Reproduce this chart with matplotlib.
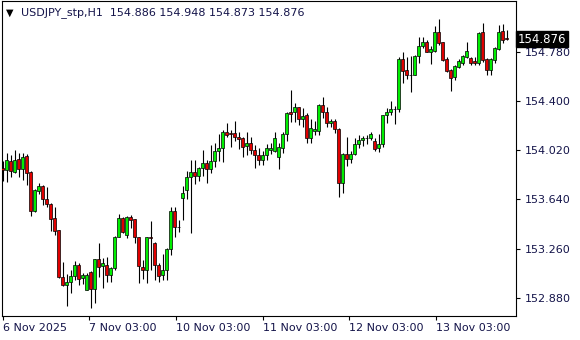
import matplotlib
matplotlib.use('Agg')
import matplotlib.pyplot as plt
import numpy as np

# USDJPY_stp H1 candles (oldest first)
opens = [153.885, 153.864, 153.933, 153.851, 153.949, 153.872, 153.975, 153.851, 153.552, 153.707,
         153.743, 153.643, 153.601, 153.493, 153.403, 153.038, 152.976, 152.999, 153.045, 153.130,
         153.030, 152.940, 153.079, 152.945, 153.177, 153.125, 153.130, 153.053, 153.107, 153.352,
         153.493, 153.367, 153.501, 153.488, 153.346, 153.117, 153.092, 153.349, 153.303, 153.130,
         153.058, 153.092, 153.256, 153.550, 153.424, 153.653, 153.712, 153.810, 153.851, 153.823,
         153.880, 153.918, 153.872, 153.934, 154.011, 154.039, 154.158, 154.155, 154.150, 154.119,
         154.112, 154.050, 154.076, 154.019, 153.980, 153.941, 153.980, 154.019, 154.016, 153.965,
         154.034, 154.142, 154.312, 154.312, 154.351, 154.258, 154.292, 154.112, 154.171, 154.171,
         154.369, 154.312, 154.227, 154.245, 154.181, 153.764, 153.990, 153.954, 153.990, 154.065,
         154.096, 154.112, 154.112, 154.091, 154.039, 154.064, 154.288, 154.312, 154.337, 154.335,
         154.726, 154.641, 154.600, 154.602, 154.747, 154.824, 154.855, 154.780, 154.788, 154.932,
         154.852, 154.721, 154.636, 154.582, 154.664, 154.695, 154.741, 154.729, 154.708, 154.690,
         154.932, 154.721, 154.638, 154.716, 154.798, 154.937, 154.886]
highs = [153.936, 153.995, 153.982, 154.021, 153.995, 154.000, 153.987, 153.859, 153.717, 153.764,
         153.748, 153.738, 153.609, 153.578, 153.405, 153.159, 153.061, 153.092, 153.161, 153.151,
         153.069, 153.074, 153.089, 153.180, 153.305, 153.190, 153.192, 153.120, 153.357, 153.524,
         153.506, 153.511, 153.519, 153.490, 153.352, 153.172, 153.352, 153.473, 153.313, 153.146,
         153.215, 153.264, 153.583, 153.583, 153.480, 153.743, 153.861, 153.944, 153.944, 153.887,
         154.021, 153.944, 154.060, 154.073, 154.145, 154.176, 154.227, 154.176, 154.245, 154.158,
         154.124, 154.160, 154.124, 154.060, 154.034, 154.016, 154.068, 154.073, 154.160, 154.078,
         154.162, 154.317, 154.485, 154.386, 154.356, 154.345, 154.305, 154.260, 154.242, 154.376,
         154.433, 154.356, 154.260, 154.258, 154.188, 153.995, 154.119, 154.016, 154.112, 154.137,
         154.129, 154.137, 154.160, 154.112, 154.145, 154.291, 154.342, 154.402, 154.360, 154.736,
         154.777, 154.741, 154.747, 154.754, 154.891, 154.891, 154.870, 154.826, 154.978, 155.030,
         154.857, 154.736, 154.644, 154.677, 154.721, 154.754, 154.852, 154.741, 154.736, 154.929,
         155.004, 154.729, 154.729, 154.819, 154.986, 154.991, 154.948]
lows = [153.784, 153.776, 153.815, 153.846, 153.815, 153.789, 153.751, 153.511, 153.542, 153.684,
        153.596, 153.578, 153.396, 153.365, 153.035, 152.971, 152.819, 152.919, 153.015, 152.979,
        152.986, 152.938, 152.803, 152.842, 153.043, 152.953, 153.002, 153.004, 153.094, 153.350,
        153.377, 153.339, 153.419, 153.305, 152.996, 153.027, 152.996, 153.094, 153.017, 153.004,
        153.017, 153.017, 153.213, 153.352, 153.390, 153.480, 153.645, 153.377, 153.761, 153.782,
        153.818, 153.769, 153.846, 153.887, 153.934, 153.929, 154.124, 154.047, 154.094, 154.027,
        153.970, 153.985, 153.990, 153.879, 153.908, 153.908, 153.944, 153.990, 154.009, 153.872,
        154.000, 154.093, 154.240, 154.240, 154.214, 154.201, 154.073, 154.073, 154.134, 154.137,
        154.265, 154.196, 154.196, 154.150, 153.656, 153.692, 153.900, 153.918, 153.985, 154.034,
        154.052, 154.067, 154.099, 154.016, 154.008, 154.046, 154.227, 154.291, 154.221, 154.317,
        154.541, 154.566, 154.471, 154.600, 154.690, 154.806, 154.778, 154.685, 154.780, 154.832,
        154.711, 154.626, 154.479, 154.561, 154.651, 154.677, 154.729, 154.677, 154.677, 154.677,
        154.703, 154.600, 154.600, 154.690, 154.793, 154.844, 154.873]
closes = [153.867, 153.941, 153.861, 153.941, 153.872, 153.967, 153.846, 153.552, 153.712, 153.743,
          153.640, 153.601, 153.486, 153.398, 153.038, 152.976, 152.999, 153.045, 153.130, 153.022,
          153.053, 153.053, 152.945, 153.177, 153.120, 153.146, 153.053, 153.107, 153.352, 153.493,
          153.385, 153.501, 153.483, 153.346, 153.123, 153.092, 153.349, 153.340, 153.130, 153.050,
          153.092, 153.256, 153.550, 153.424, 153.426, 153.689, 153.810, 153.851, 153.823, 153.882,
          153.918, 153.872, 153.934, 154.014, 154.034, 154.158, 154.140, 154.142, 154.119, 154.104,
          154.047, 154.076, 154.019, 153.985, 153.941, 153.980, 154.034, 154.037, 154.112, 154.042,
          154.142, 154.305, 154.302, 154.351, 154.258, 154.284, 154.112, 154.188, 154.181, 154.369,
          154.312, 154.227, 154.245, 154.181, 153.764, 153.990, 153.954, 153.990, 154.065, 154.096,
          154.114, 154.114, 154.142, 154.031, 154.065, 154.291, 154.314, 154.337, 154.340, 154.726,
          154.628, 154.600, 154.597, 154.749, 154.826, 154.855, 154.780, 154.801, 154.932, 154.850,
          154.716, 154.633, 154.579, 154.667, 154.708, 154.747, 154.785, 154.690, 154.690, 154.922,
          154.716, 154.638, 154.721, 154.806, 154.929, 154.870, 154.876]

price_ticks = [152.880, 153.260, 153.640, 154.020, 154.400, 154.780]
time_labels = ['6 Nov 2025', '7 Nov 03:00', '10 Nov 03:00', '11 Nov 03:00', '12 Nov 03:00', '13 Nov 03:00']
time_label_bars = [0, 21.67, 43.33, 65, 86.67, 108.33]
title = 'USDJPY_stp,H1  154.886 154.948 154.873 154.876'

o = np.array(opens)
h = np.array(highs)
l = np.array(lows)
c = np.array(closes)
x = np.arange(len(o))

txt = '#14144a'
fig = plt.figure(figsize=(5.8, 3.4), dpi=100)
ax = fig.add_axes([2/580, 24/340, 514/580, 315/340])

# wicks then bodies
ax.vlines(x, l, h, color='black', linewidth=0.8, zorder=2)
cols = np.where(c >= o, '#00ee00', '#e00000')
ax.bar(x, np.abs(c - o), bottom=np.minimum(o, c), width=0.7, color=cols,
       edgecolor='black', linewidth=0.5, zorder=3)

ax.set_xlim(-0.2, 128.3)
ax.set_ylim(152.739, 155.1715)

ax.yaxis.tick_right()
ax.set_yticks(price_ticks)
ax.set_yticklabels(['%.3f' % p for p in price_ticks])
ax.tick_params(axis='y', direction='out', length=3, width=0.8, pad=3,
               labelsize=8, labelcolor=txt, left=False)

ax.set_xticks(time_label_bars)
ax.set_xticklabels(time_labels)
for lbl in ax.get_xticklabels():
    lbl.set_horizontalalignment('left')
ax.tick_params(axis='x', direction='out', length=3, width=0.8, pad=2,
               labelsize=8, labelcolor=txt)

for s in ax.spines.values():
    s.set_linewidth(0.8)
    s.set_color('black')

# header
ax.text(0.008, 0.962, '\u25bc', transform=ax.transAxes, fontsize=7, color='black',
        va='center', ha='left')
ax.text(0.037, 0.962, title, transform=ax.transAxes, fontsize=8, color=txt,
        va='center', ha='left')

# last price box
ax.text(1.004, closes[-1], '%.3f' % closes[-1], transform=ax.get_yaxis_transform(),
        fontsize=8.5, color='white', va='center', ha='left', zorder=5,
        bbox=dict(facecolor='black', edgecolor='black', pad=1.2))

fig.savefig('out.png', dpi=100)
